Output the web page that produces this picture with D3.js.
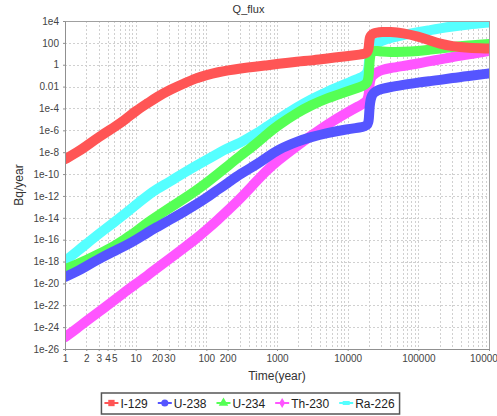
<!DOCTYPE html>
<html>
<head>
<meta charset="utf-8">
<script src="https://cdn.jsdelivr.net/npm/d3@7"></script>
<style>
  body { margin: 0; background: #ffffff; }
  svg text { font-family: "Liberation Sans", Arial, sans-serif; }
</style>
</head>
<body>
<svg id="drawing_region"></svg>
<script>
// time points (years)
const times = [1, 1.5, 2, 3, 5, 7, 10, 15, 20, 30, 50, 70, 100, 150, 200, 300, 500, 700,
    1000, 2000, 3000, 5000, 10000, 15000, 19500, 20000, 20300, 20700, 21500, 23000, 26000,
    30000, 40000, 60000, 100000, 150000, 200000, 300000, 500000, 1000000];

// Q_flux (Bq/year)
const i129 = [2.3e-9, 1.0e-8, 3.6e-8, 2.4e-7, 2.0e-6, 8.7e-6, 5.9e-5, 3.2e-4, 1.1e-3, 4.9e-3,
    0.021, 0.055, 0.115, 0.215, 0.30, 0.45, 0.69, 0.85, 1.17, 1.97, 2.4, 3.7, 6.3, 8.6, 10.6,
    64, 183, 344, 524, 700, 900, 1000, 1000, 800, 380, 160, 85, 48, 35, 30];
const u238 = [3.8e-20, 1.3e-19, 3.8e-19, 1.7e-18, 9.1e-18, 2.6e-17, 9.2e-17, 4.9e-16, 1.4e-15, 6.2e-15,
    4.1e-14, 1.5e-13, 6.4e-13, 4.3e-12, 1.5e-11, 1.0e-10, 6.7e-10, 2.9e-9, 1.6e-8, 1.05e-7, 2.4e-7,
    5.7e-7, 1.3e-6, 1.8e-6, 2.5e-6, 1.3e-5, 7.2e-5, 3.2e-4, 1.1e-3, 2.6e-3, 4.4e-3, 6.0e-3, 9.1e-3,
    0.014, 0.024, 0.032, 0.040, 0.061, 0.093, 0.16];
const u234 = [2.0e-19, 5.9e-19, 1.35e-18, 4.8e-18, 2.6e-17, 1.1e-16, 4.9e-16, 4.1e-15, 1.4e-14, 7.8e-14,
    6.4e-13, 2.8e-12, 1.5e-11, 1.2e-10, 5.4e-10, 4.5e-9, 5.6e-8, 3.7e-7, 2.5e-6, 4.7e-5, 1.9e-4,
    8.1e-4, 3.9e-3, 9.1e-3, 0.017, 0.22, 1.17, 5.1, 14.6, 18, 18, 16.2, 14.6, 14.6, 18, 24.7,
    30.5, 42, 57, 79];
const th230 = [1.2e-25, 8.2e-25, 3.6e-24, 2.4e-23, 3.0e-22, 1.6e-21, 8.7e-21, 5.8e-20, 2.5e-19, 1.7e-18,
    2.1e-17, 1.1e-16, 7.6e-16, 7.6e-15, 4.5e-14, 5.4e-13, 1.9e-11, 1.9e-10, 1.5e-9, 4.6e-8, 3.0e-7,
    3.1e-6, 4.7e-5, 1.9e-4, 4.8e-4, 3.2e-3, 0.011, 0.032, 0.075, 0.115, 0.21, 0.33, 0.50, 0.76,
    1.3, 2.2, 3.0, 5.1, 8.6, 18];
const ra226 = [1.1e-18, 9.1e-18, 4.0e-17, 3.3e-16, 4.1e-15, 2.2e-14, 1.5e-13, 1.2e-12, 4.3e-12, 1.9e-11,
    1.5e-10, 5.4e-10, 1.9e-9, 8.4e-9, 2.4e-8, 6.9e-8, 4.6e-7, 2.0e-6, 8.7e-6, 1.5e-4, 6.6e-4,
    3.2e-3, 0.021, 0.061, 0.14, 1.8, 7.7, 22, 42, 64, 97, 148, 279, 524, 986, 1500, 2060, 3140,
    4780, 7290];

const seriesNames = ["I-129", "U-238", "U-234", "Th-230", "Ra-226"];
const seriesValues = [i129, u238, u234, th230, ra226];
const seriesColors = ["#ff5555", "#5555ff", "#55ff55", "#ff55ff", "#55ffff"];

const xTickValues = [1, 2, 3, 4, 5, 10, 20, 30, 100, 200, 1000, 10000, 100000, 1000000];
const yTickValues = [1e4, 1e2, 1, 1e-2, 1e-4, 1e-6, 1e-8, 1e-10, 1e-12, 1e-14, 1e-16,
    1e-18, 1e-20, 1e-22, 1e-24, 1e-26];
const yTickLabels = ["1e4", "100", "1", "0.01", "1e-4", "1e-6", "1e-8", "1e-10", "1e-12",
    "1e-14", "1e-16", "1e-18", "1e-20", "1e-22", "1e-24", "1e-26"];

class LogChart {

    constructor( config, data ) {
        this.config = {
            parent: config.parent,
            width: config.width || 497,
            height: config.height || 416,
            margin: config.margin || {top:21, right:8, bottom:67, left:65}
        };
        this.data = data;
        this.init();
    }

    init() {
        let self = this;

        self.svg = d3.select(self.config.parent)
            .attr('width', self.config.width)
            .attr('height', self.config.height);

        self.inner_width = self.config.width - self.config.margin.left - self.config.margin.right;
        self.inner_height = self.config.height - self.config.margin.top - self.config.margin.bottom;

        self.chart = self.svg.append('g')
            .attr('transform', `translate(${self.config.margin.left}, ${self.config.margin.top})`);

        self.xscale = d3.scaleLog()
            .domain([1, 1e6])
            .range([0, self.inner_width]);

        self.yscale = d3.scaleLog()
            .domain([1e-26, 1e4])
            .range([self.inner_height, 0]);

        self.line = d3.line()
            .x(d => self.xscale(d.t))
            .y(d => self.yscale(d.v))
            .curve(d3.curveBasis);
    }

    render() {
        let self = this;

        // grid
        const grid = self.chart.append('g')
            .attr('stroke', '#d0d0d0')
            .attr('stroke-dasharray', '2,2')
            .attr('shape-rendering', 'crispEdges');

        grid.selectAll('.vgrid')
            .data(self.xscale.ticks())
            .join('line')
            .attr('x1', d => Math.round(self.xscale(d)) + 0.5)
            .attr('x2', d => Math.round(self.xscale(d)) + 0.5)
            .attr('y1', 0)
            .attr('y2', self.inner_height);

        grid.selectAll('.hgrid')
            .data(yTickValues)
            .join('line')
            .attr('x1', 0)
            .attr('x2', self.inner_width)
            .attr('y1', d => Math.round(self.yscale(d)) + 0.5)
            .attr('y2', d => Math.round(self.yscale(d)) + 0.5);

        // series lines, last series drawn first
        self.chart.append('clipPath')
            .attr('id', 'plot_clip')
            .append('rect')
            .attr('width', self.inner_width)
            .attr('height', self.inner_height);

        const lines = self.chart.append('g')
            .attr('clip-path', 'url(#plot_clip)');

        lines.selectAll('path')
            .data(self.data.slice().reverse())
            .join('path')
            .attr('d', d => self.line(d.points))
            .attr('fill', 'none')
            .attr('stroke', d => d.color)
            .attr('stroke-width', 10)
            .attr('stroke-linecap', 'round')
            .attr('stroke-linejoin', 'round');

        // plot outline
        self.chart.append('rect')
            .attr('x', 0.5)
            .attr('y', 0.5)
            .attr('width', self.inner_width)
            .attr('height', self.inner_height)
            .attr('fill', 'none')
            .attr('stroke', '#a0a0a0')
            .attr('shape-rendering', 'crispEdges');

        // axes
        const xaxis = d3.axisBottom(self.xscale)
            .tickValues(xTickValues)
            .tickFormat(d3.format('d'))
            .tickSize(2)
            .tickSizeOuter(0)
            .tickPadding(4);

        const yaxis = d3.axisLeft(self.yscale)
            .tickValues(yTickValues)
            .tickFormat((d, i) => yTickLabels[i])
            .tickSize(2)
            .tickSizeOuter(0)
            .tickPadding(4);

        const xg = self.chart.append('g')
            .attr('transform', `translate(0, ${self.inner_height})`)
            .call(xaxis);

        const yg = self.chart.append('g')
            .call(yaxis);

        [xg, yg].forEach(g => {
            g.select('.domain').attr('stroke', '#909090');
            g.selectAll('.tick line').attr('stroke', '#909090');
            g.selectAll('.tick text')
                .attr('fill', '#444444')
                .style('font-family', '"Liberation Sans", Arial, sans-serif')
                .style('font-size', '10px');
        });

        // titles
        self.svg.append('text')
            .attr('x', self.config.width / 2)
            .attr('y', 13)
            .attr('text-anchor', 'middle')
            .attr('fill', '#333333')
            .style('font-size', '11px')
            .text('Q_flux');

        self.svg.append('text')
            .attr('x', self.config.margin.left + self.inner_width / 2)
            .attr('y', self.config.margin.top + self.inner_height + 31)
            .attr('text-anchor', 'middle')
            .attr('fill', '#333333')
            .style('font-size', '12px')
            .text('Time(year)');

        self.svg.append('text')
            .attr('transform', `translate(23, ${self.config.margin.top + self.inner_height / 2}) rotate(-90)`)
            .attr('text-anchor', 'middle')
            .attr('fill', '#333333')
            .style('font-size', '12px')
            .text('Bq/year');

        self.renderLegend();
    }

    renderLegend() {
        let self = this;

        const legend = self.svg.append('g');
        const box = legend.append('rect');
        const items = legend.selectAll('.item')
            .data(self.data)
            .join('g');

        items.append('line')
            .attr('x1', 0).attr('x2', 14)
            .attr('y1', 0).attr('y2', 0)
            .attr('stroke', d => d.color)
            .attr('stroke-width', 2);

        const symbolTypes = [d3.symbolSquare, d3.symbolCircle, d3.symbolTriangle, d3.symbolDiamond];
        items.each(function(d, i) {
            const g = d3.select(this);
            if (i < 4) {
                g.append('path')
                    .attr('transform', 'translate(7,0)')
                    .attr('d', d3.symbol().type(symbolTypes[i]).size(i === 3 ? 30 : 40)())
                    .attr('fill', d.color);
            } else {
                g.append('rect')
                    .attr('x', 3.5).attr('y', -2)
                    .attr('width', 7).attr('height', 4)
                    .attr('fill', d.color);
            }
        });

        items.append('text')
            .attr('x', 16)
            .attr('y', 4.5)
            .attr('fill', '#222222')
            .style('font-size', '12px')
            .text(d => d.name);

        let offset = 0;
        const offsets = [];
        items.each(function() {
            const w = d3.select(this).select('text').node().getComputedTextLength();
            offsets.push(offset);
            offset += 16 + w + 10;
        });
        const total = offset - 10;
        const left = (self.config.width - total) / 2 + 1;
        items.attr('transform', (d, i) => `translate(${left + offsets[i]}, 403)`);

        box.attr('x', left - 3)
            .attr('y', 393)
            .attr('width', total + 8)
            .attr('height', 21)
            .attr('fill', 'white')
            .attr('stroke', '#555555')
            .attr('stroke-width', 1.5);
    }
}

const data = seriesNames.map((name, i) => ({
    name: name,
    color: seriesColors[i],
    points: times.map((t, j) => ({ t: t, v: seriesValues[i][j] }))
}));

let chart = new LogChart( { parent: '#drawing_region', width: 497, height: 416 }, data );
chart.render();
</script>
</body>
</html>
